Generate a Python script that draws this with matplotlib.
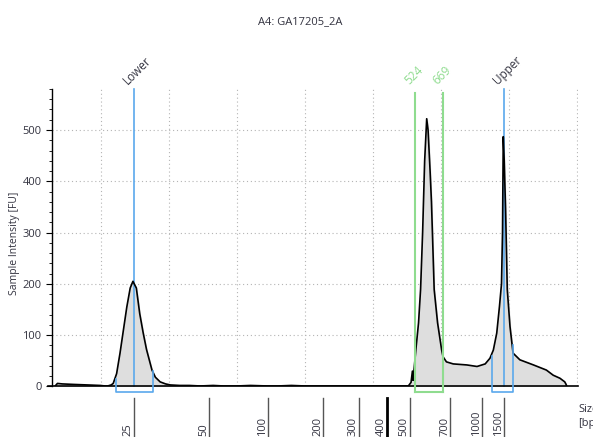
import matplotlib
matplotlib.use("Agg")
import matplotlib.pyplot as plt
from matplotlib.ticker import MultipleLocator

plt.rcParams['font.family'] = ['Open Sans', 'DejaVu Sans']

title = "A4: GA17205_2A"

# electropherogram trace: migration time [s] vs fluorescence [FU]
time = [43.2, 43.6, 44.3, 46.0, 48.0, 49.9, 50.6, 51.0, 51.5, 51.8, 52.3, 52.8,
        53.3, 53.8, 54.3, 54.7, 55.2, 55.7, 56.2, 56.7, 57.5, 58.0, 58.7, 59.5,
        60.2, 61.6, 63.0, 64.6, 66.5, 68.0, 70.0, 72.0, 74.5, 76.0, 78.0, 80.0,
        83.0, 86.0, 89.0, 92.0, 94.0, 95.2, 95.6, 95.8, 95.9, 96.3, 96.7, 97.0,
        97.3, 97.6, 97.9, 98.1, 98.4, 98.6, 99.0, 99.5, 100.1, 100.3, 100.8,
        101.8, 103.8, 105.3, 106.5, 107.2, 107.7, 108.2, 108.6, 108.9, 109.05,
        109.16, 109.3, 109.5, 109.75, 110.15, 110.6, 111.6, 113.6, 115.5, 116.5,
        117.5, 118.2, 118.4, 118.5]
intensity = [0, 6, 5, 4, 3, 2, 1, 1, 3, 6, 25, 65,
             110, 155, 192, 205, 192, 142, 105, 72, 32, 18, 9, 5,
             3, 2, 2, 1, 2, 1, 1, 2, 1, 1, 2, 1,
             1, 1, 1, 1, 1, 1, 8, 30, 12, 71, 124, 189,
             300, 440, 522, 500, 420, 360, 189, 124, 71, 58, 48,
             44, 42, 39, 44, 55, 71, 104, 156, 200, 300,
             487, 440, 345, 189, 117, 65, 52, 42, 32, 22,
             16, 9, 4, 0]

# peak markers
lower_t, upper_t = 54.85, 109.2
region_t = [96.2, 100.35]
region_labels = ["524", "669"]
lower_bracket = [52.2, 57.6]
upper_bracket = [107.5, 110.6]

# size ladder (bp) and migration time
ladder_bp = ["25", "50", "100", "200", "300", "400", "500", "700", "1000", "1500"]
ladder_t = [54.8, 65.9, 74.6, 82.7, 87.9, 92.1, 95.4, 101.4, 106.0, 109.2]

blue = "#5aa8ec"
green = "#8fdc8f"
txt = "#333340"

fig = plt.figure(figsize=(5.93, 4.37), dpi=100)
ax = fig.add_axes([0.0877, 0.1156, 0.887, 0.6808])

ax.fill_between(time, intensity, 0, color="#dedede", zorder=1)
ax.plot(time, intensity, color="black", lw=1.2, zorder=3)

ax.set_xlim(42.8, 120.15)
ax.set_ylim(0, 580)

for x in range(50, 121, 10):
    ax.axvline(x, color="#b4b4b4", lw=0.8, ls=(0, (1, 2.5)), zorder=0)
for y in range(100, 501, 100):
    ax.axhline(y, color="#b4b4b4", lw=0.8, ls=(0, (1, 2.5)), zorder=0)

# markers
ax.plot([lower_t, lower_t], [0, 580], color=blue, lw=1.2, zorder=2, clip_on=False)
ax.plot([upper_t, upper_t], [0, 580], color=blue, lw=1.2, zorder=2, clip_on=False)
for t in region_t:
    ax.plot([t, t], [-10, 572], color=green, lw=1.5, zorder=4, clip_on=False)
ax.plot(region_t, [-10, -10], color=green, lw=1.5, zorder=4, clip_on=False)

ax.plot([lower_bracket[0], lower_bracket[0], lower_bracket[1], lower_bracket[1]],
        [14, -10, -10, 30], color=blue, lw=1.2, zorder=4, clip_on=False)
ax.plot([upper_bracket[0], upper_bracket[0], upper_bracket[1], upper_bracket[1]],
        [60, -10, -10, 80], color=blue, lw=1.2, zorder=4, clip_on=False)

for t, lab, col in [(lower_t, "Lower", txt), (region_t[0], region_labels[0], green),
                    (region_t[1], region_labels[1], green), (upper_t, "Upper", txt)]:
    ax.annotate(lab, (t, 1.0), xycoords=ax.get_xaxis_transform(),
                xytext=(-4, 2), textcoords="offset pixels", rotation=45,
                rotation_mode="anchor", ha="left", va="bottom",
                fontsize=8.5, color=col, annotation_clip=False)

# size ladder below axis
xt = ax.get_xaxis_transform()
for t, bp in zip(ladder_t, ladder_bp):
    lw, col = (2.0, "black") if bp == "400" else (1.0, "#555555")
    ax.plot([t, t], [-0.039, -0.2], color=col, lw=lw, transform=xt, clip_on=False)
    ax.text(t, -0.166, bp, transform=xt, rotation=90, rotation_mode="anchor",
            ha="left", va="bottom", fontsize=8, color=txt)
ax.text(1.0, -0.06, "Size\n[bp]", transform=ax.transAxes, ha="left", va="top",
        fontsize=8, color=txt, linespacing=1.3)

for s in ["top", "right"]:
    ax.spines[s].set_visible(False)
ax.spines["left"].set_linewidth(1.0)
ax.spines["bottom"].set_linewidth(1.2)
ax.spines["bottom"].set_bounds(42.2, 120.15)
ax.xaxis.set_visible(False)
ax.yaxis.set_major_locator(MultipleLocator(100))
ax.yaxis.set_minor_locator(MultipleLocator(20))
ax.tick_params(axis="y", which="major", length=4, labelsize=8, labelcolor=txt)
ax.tick_params(axis="y", which="minor", length=2)

fig.text(0.0245, 0.444, "Sample Intensity [FU]", rotation=90, ha="center",
         va="center", fontsize=7.5, color=txt)
fig.text(0.506, 0.95, title, ha="center", va="center", fontsize=8, color=txt)

fig.savefig("out.png", dpi=100)
